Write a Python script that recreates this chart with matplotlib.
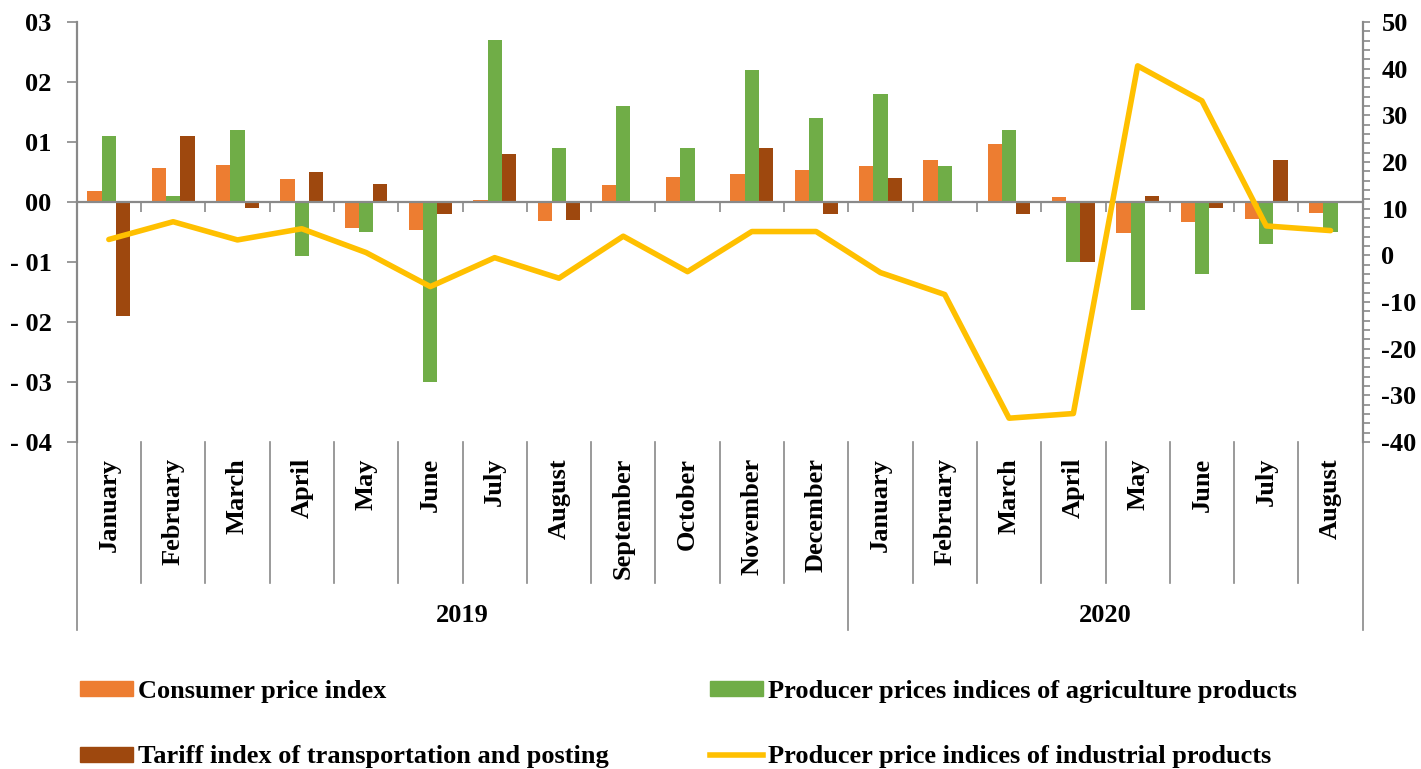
import matplotlib
matplotlib.use("Agg")
import matplotlib.pyplot as plt
import numpy as np
from matplotlib.patches import Patch
from matplotlib.lines import Line2D
from matplotlib.ticker import MultipleLocator

plt.rcParams["axes.unicode_minus"] = False

months = ["January", "February", "March", "April", "May", "June", "July", "August",
          "September", "October", "November", "December",
          "January", "February", "March", "April", "May", "June", "July", "August"]
years = ["2019", "2020"]
year_counts = [12, 8]

cpi = [0.18, 0.56, 0.61, 0.38, -0.43, -0.47, 0.04, -0.32, 0.29, 0.41, 0.46, 0.53,
       0.60, 0.70, 0.97, 0.08, -0.51, -0.33, -0.28, -0.18]
agri = [1.1, 0.1, 1.2, -0.9, -0.5, -3.0, 2.7, 0.9, 1.6, 0.9, 2.2, 1.4,
        1.8, 0.6, 1.2, -1.0, -1.8, -1.2, -0.7, -0.5]
tariff = [-1.9, 1.1, -0.1, 0.5, 0.3, -0.2, 0.8, -0.3, 0.0, 0.0, 0.9, -0.2,
          0.4, 0.0, -0.2, -1.0, 0.1, -0.1, 0.7, 0.0]
industrial = [3.4, 7.2, 3.3, 5.7, 0.6, -6.7, -0.5, -4.9, 4.1, -3.5, 5.1, 5.1,
              -3.7, -8.4, -34.9, -33.9, 40.6, 33.1, 6.3, 5.3]

left_ticks = [-4, -3, -2, -1, 0, 1, 2, 3]
left_tick_labels = ["- 04", "- 03", "- 02", "- 01", "00", "01", "02", "03"]
right_ticks = [-40, -30, -20, -10, 0, 10, 20, 30, 40, 50]

labels = ["Consumer price index", "Tariff index of transportation and posting",
          "Producer prices indices of agriculture products",
          "Producer price indices of industrial products"]

c_cpi = "#ED7D31"
c_agri = "#70AD47"
c_tariff = "#9E480E"
c_ind = "#FFC000"
gray = "#898989"

FONT = dict(family="Liberation Serif", weight="bold", size=19)

W, H = 1421, 769
fig = plt.figure(figsize=(W / 100, H / 100), dpi=100)
x0, x1, ytop, ybot = 76.7, 1362.7, 22, 442
ax = fig.add_axes([x0 / W, 1 - ybot / H, (x1 - x0) / W, (ybot - ytop) / H])

n = len(months)
x = np.arange(n)
bw = 0.222
ax.bar(x - bw, cpi, bw, color=c_cpi, linewidth=0, zorder=2)
ax.bar(x, agri, bw, color=c_agri, linewidth=0, zorder=2)
ax.bar(x + bw, tariff, bw, color=c_tariff, linewidth=0, zorder=2)

ax.set_xlim(-0.5, n - 0.5)
ax.set_ylim(-4, 3)
ax.set_yticks(left_ticks)
ax.set_yticklabels(left_tick_labels)
for t in ax.get_yticklabels():
    t.set_fontproperties(matplotlib.font_manager.FontProperties(**FONT))
ax.tick_params(axis="y", length=7, width=1.2, color=gray, pad=11)
ax.set_xticks(np.arange(n + 1) - 0.5)
ax.set_xticklabels([])
ax.tick_params(axis="x", length=7, width=1.2, color=gray, direction="out")
ax.spines["bottom"].set_position(("data", 0))
ax.spines["bottom"].set_color(gray)
ax.spines["bottom"].set_linewidth(1.6)
ax.spines["left"].set_color(gray)
ax.spines["left"].set_linewidth(1.6)
ax.spines["top"].set_visible(False)
ax.spines["right"].set_visible(False)

ax2 = ax.twinx()
ax2.plot(x, industrial, color=c_ind, lw=4.0, solid_capstyle="round", solid_joinstyle="round", zorder=5)
ax2.set_ylim(-40, 50)
ax2.set_yticks(right_ticks)
ax2.yaxis.set_minor_locator(MultipleLocator(2))
for t in ax2.get_yticklabels():
    t.set_fontproperties(matplotlib.font_manager.FontProperties(**FONT))
ax2.tick_params(axis="y", which="both", length=5, width=1.2, color=gray, pad=8.5)
ax2.spines["right"].set_color(gray)
ax2.spines["right"].set_linewidth(1.6)
for s in ["top", "left", "bottom"]:
    ax2.spines[s].set_visible(False)

# category label area
trans = ax.get_xaxis_transform()
ph = ybot - ytop
def ay(py):
    return (ybot - py) / ph

lab_top = ay(458)
sep_month = ay(583)
sep_year = ay(630)
year_y = ay(615)

for i, m in enumerate(months):
    ax.text(i, lab_top, m, transform=trans, rotation=90, ha="center", va="top",
            clip_on=False, **FONT)

bounds = np.cumsum([0] + year_counts) - 0.5
for k in range(n + 1):
    b = k - 0.5
    yb = sep_year if b in bounds else sep_month
    ax.plot([b, b], [0.0, yb], transform=trans, color=gray, lw=1.2, clip_on=False, zorder=1)

for j, yr in enumerate(years):
    cx = (bounds[j] + bounds[j + 1]) / 2
    ax.text(cx, year_y, yr, transform=trans, ha="center", va="center", clip_on=False, **FONT)

handles = [Patch(color=c_cpi), Patch(color=c_tariff), Patch(color=c_agri),
           Line2D([0], [0], color=c_ind, lw=4.0)]
fig.legend(handles, labels, ncol=2, loc="upper left",
           bbox_to_anchor=(80 / W, 1 - 680 / H), frameon=False,
           prop=matplotlib.font_manager.FontProperties(**FONT),
           handlelength=2.0, handleheight=0.5, handletextpad=0.2,
           columnspacing=3.83, labelspacing=1.61, borderpad=0, borderaxespad=0)

fig.savefig("out.png", dpi=100)
